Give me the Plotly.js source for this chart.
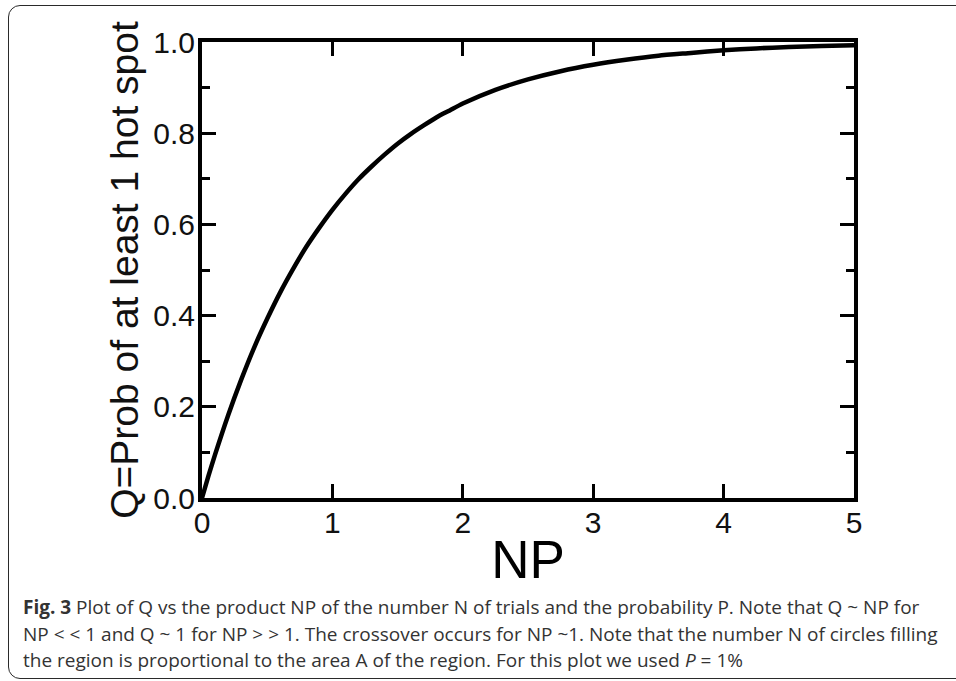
<!DOCTYPE html>
<html>
<head>
<meta charset="utf-8">
<script src="https://cdn.plot.ly/plotly-3.0.1.min.js"></script>
<style>
  html, body { margin:0; padding:0; background:#fff; }
  #wrap { position:relative; width:956px; height:681px; overflow:hidden; background:#fff; }
  #frame { position:absolute; left:8px; top:5px; width:990px; height:674px; border:1.5px solid #2a2a2a; border-radius:12px; box-sizing:border-box; }
  #chart { position:absolute; left:0; top:0; width:956px; height:681px; }
</style>
</head>
<body>
<div id="wrap">
  <div id="frame"></div>
  <div id="chart"></div>
</div>
<script>
// Values
const npValues = [0, 0.05, 0.1, 0.2, 0.3, 0.4, 0.5, 0.6, 0.7, 0.8, 0.9, 1.0, 1.1, 1.2, 1.3, 1.4, 1.5, 1.6, 1.7, 1.8, 1.9, 2.0, 2.25, 2.5, 2.75, 3.0, 3.25, 3.5, 3.75, 4.0, 4.25, 4.5, 4.75, 5.0];
const qValues  = [0, 0.049, 0.095, 0.181, 0.259, 0.330, 0.393, 0.451, 0.503, 0.551, 0.593, 0.632, 0.667, 0.699, 0.727, 0.753, 0.777, 0.798, 0.817, 0.835, 0.850, 0.865, 0.895, 0.918, 0.936, 0.950, 0.961, 0.970, 0.976, 0.982, 0.986, 0.989, 0.991, 0.993];
const xTickVals = [0, 1, 2, 3, 4, 5];
const yTickVals = [0, 0.2, 0.4, 0.6, 0.8, 1.0];
const yTickText = ['0.0', '0.2', '0.4', '0.6', '0.8', '1.0'];
const xTitle = 'NP';
const yTitle = 'Q=Prob of at least 1 hot spot';
const captionLines = [
  '<b>Fig. 3</b> Plot of Q vs the product NP of the number N of trials and the probability P. Note that Q ~ NP for',
  'NP &lt; &lt; 1 and Q ~ 1 for NP &gt; &gt; 1. The crossover occurs for NP ~1. Note that the number N of circles filling',
  'the region is proportional to the area A of the region. For this plot we used <i>P</i> = 1%'
];

const axisFont = {family:'Liberation Sans, Arial, Helvetica, sans-serif', size:30, color:'#111'};

const trace = {
  x: npValues, y: qValues, type:'scatter', mode:'lines',
  line:{color:'#000', width:4.5, shape:'spline', smoothing:0.6},
  hoverinfo:'skip', showlegend:false, cliponaxis:false
};

const W = 956, H = 681;
const m = {l:202, r:102, t:42, b:183};
const pw = W - m.l - m.r, ph = H - m.t - m.b;

const annotations = captionLines.map((t, i) => ({
  text: t, xref:'paper', yref:'paper', showarrow:false,
  xanchor:'left', yanchor:'middle',
  x: (21 - m.l) / pw,
  y: (H - m.b - (607 + i * 26.5)) / ph,
  font:{family:'Open Sans, Noto Sans, sans-serif', size:19, color:'#333'},
  align:'left'
}));

const layout = {
  width:W, height:H,
  margin:m,
  paper_bgcolor:'rgba(0,0,0,0)', plot_bgcolor:'rgba(0,0,0,0)',
  xaxis:{
    range:[0,5], tickvals:xTickVals, ticktext:xTickVals.map(String),
    ticks:'inside', ticklen:14, tickwidth:3, tickcolor:'#000',
    showline:true, linewidth:4, linecolor:'#000', mirror:'ticks',
    showgrid:false, zeroline:false, tickfont:axisFont, ticklabelstandoff:-5,
    title:{text:xTitle, font:{family:'Liberation Sans, Arial, sans-serif', size:53, color:'#000'}, standoff:4}
  },
  yaxis:{
    range:[0,1], tickvals:yTickVals, ticktext:yTickText,
    ticks:'inside', ticklen:14, tickwidth:3, tickcolor:'#000',
    minor:{dtick:0.1, ticks:'inside', ticklen:8, tickwidth:3, tickcolor:'#000', showgrid:false},
    showline:true, linewidth:4, linecolor:'#000', mirror:'ticks',
    showgrid:false, zeroline:false, tickfont:axisFont, ticklabelstandoff:-3,
    title:{text:yTitle, font:{family:'Liberation Sans, Arial, sans-serif', size:39, color:'#111'}, standoff:4}
  },
  annotations: annotations
};

Plotly.newPlot('chart', [trace], layout, {displayModeBar:false, staticPlot:true});
</script>
</body>
</html>
